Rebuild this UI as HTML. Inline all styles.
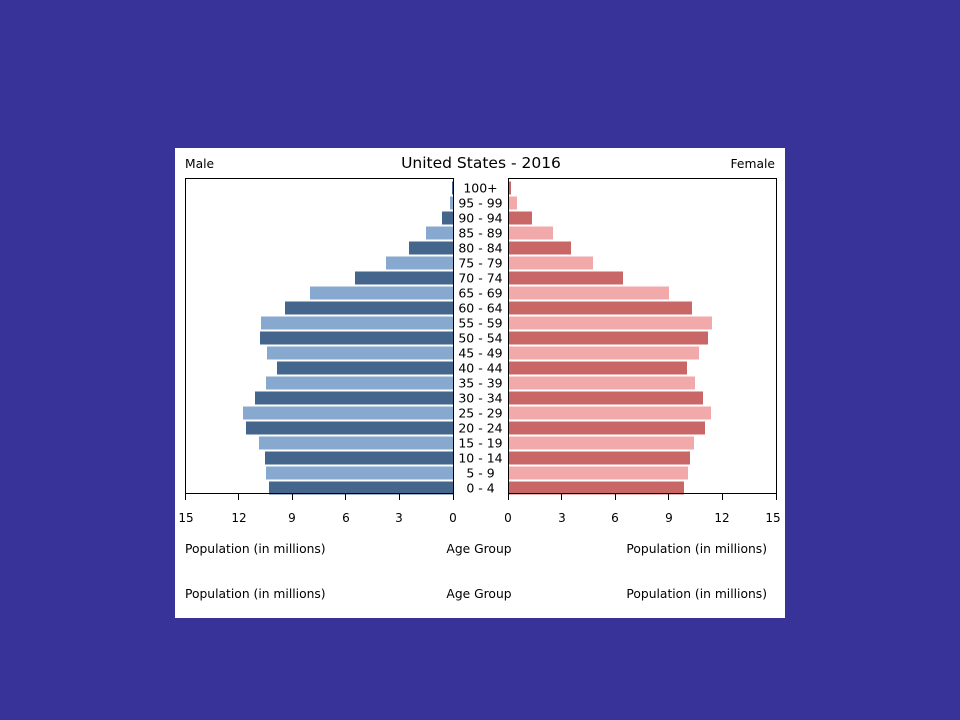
<!DOCTYPE html>
<html><head><meta charset="utf-8"><style>
html,body{margin:0;padding:0;background:#373399;}
svg{display:block;font-family:"DejaVu Sans","Liberation Sans",sans-serif;}
</style></head><body>
<svg width="960" height="720" xmlns="http://www.w3.org/2000/svg">
<rect x="0" y="0" width="960" height="720" fill="#373399"/>
<rect x="175" y="148" width="610" height="470" fill="#ffffff"/>
<text x="185" y="168" font-size="12.3">Male</text>
<text x="775" y="168" font-size="12.3" text-anchor="end">Female</text>
<text x="481" y="168" font-size="15.5" text-anchor="middle">United States - 2016</text>
<g fill="#44668c">
<rect x="269" y="481.5" width="184" height="13"/>
<rect x="265" y="451.5" width="188" height="13"/>
<rect x="246" y="421.5" width="207" height="13"/>
<rect x="255" y="391.5" width="198" height="13"/>
<rect x="277" y="361.5" width="176" height="13"/>
<rect x="260" y="331.5" width="193" height="13"/>
<rect x="285" y="301.5" width="168" height="13"/>
<rect x="355" y="271.5" width="98" height="13"/>
<rect x="409" y="241.5" width="44" height="13"/>
<rect x="442" y="211.5" width="11" height="13"/>
<rect x="452" y="181.5" width="1" height="13"/>
</g>
<g fill="#87a8cf">
<rect x="266" y="466.5" width="187" height="13"/>
<rect x="259" y="436.5" width="194" height="13"/>
<rect x="243" y="406.5" width="210" height="13"/>
<rect x="266" y="376.5" width="187" height="13"/>
<rect x="267" y="346.5" width="186" height="13"/>
<rect x="261" y="316.5" width="192" height="13"/>
<rect x="310" y="286.5" width="143" height="13"/>
<rect x="386" y="256.5" width="67" height="13"/>
<rect x="426" y="226.5" width="27" height="13"/>
<rect x="450" y="196.5" width="3" height="13"/>
</g>
<g fill="#c96666">
<rect x="508" y="481.5" width="176" height="13"/>
<rect x="508" y="451.5" width="182" height="13"/>
<rect x="508" y="421.5" width="197" height="13"/>
<rect x="508" y="391.5" width="195" height="13"/>
<rect x="508" y="361.5" width="179" height="13"/>
<rect x="508" y="331.5" width="200" height="13"/>
<rect x="508" y="301.5" width="184" height="13"/>
<rect x="508" y="271.5" width="115" height="13"/>
<rect x="508" y="241.5" width="63" height="13"/>
<rect x="508" y="211.5" width="24" height="13"/>
<rect x="508" y="181.5" width="3" height="13"/>
</g>
<g fill="#f2a9a9">
<rect x="508" y="466.5" width="180" height="13"/>
<rect x="508" y="436.5" width="186" height="13"/>
<rect x="508" y="406.5" width="203" height="13"/>
<rect x="508" y="376.5" width="187" height="13"/>
<rect x="508" y="346.5" width="191" height="13"/>
<rect x="508" y="316.5" width="204" height="13"/>
<rect x="508" y="286.5" width="161" height="13"/>
<rect x="508" y="256.5" width="85" height="13"/>
<rect x="508" y="226.5" width="45" height="13"/>
<rect x="508" y="196.5" width="9" height="13"/>
</g>
<g fill="none" stroke="#000" stroke-width="1">
<path d="M185.5 493.5 V178.5 H453.5 V493.5 H185.5"/>
<path d="M508.5 493.5 V178.5 H776.5 V493.5 H508.5"/>
<path d="M185.5 493 V500 M238.5 493 V500 M292.5 493 V500 M345.5 493 V500 M399.5 493 V500 M453.5 493 V500"/>
<path d="M508.5 493 V500 M561.5 493 V500 M615.5 493 V500 M668.5 493 V500 M722.5 493 V500 M776.5 493 V500"/>
</g>
<g font-size="12" text-anchor="middle">
<text x="186" y="522">15</text><text x="239" y="522">12</text><text x="292" y="522">9</text>
<text x="346" y="522">6</text><text x="399" y="522">3</text><text x="453" y="522">0</text>
<text x="508" y="522">0</text><text x="562" y="522">3</text><text x="615" y="522">6</text>
<text x="669" y="522">9</text><text x="722" y="522">12</text><text x="773" y="522">15</text>
</g>
<g font-size="12.5" text-anchor="middle">
<text x="480.5" y="492.5">0 - 4</text>
<text x="480.5" y="477.5">5 - 9</text>
<text x="480.5" y="462.5">10 - 14</text>
<text x="480.5" y="447.5">15 - 19</text>
<text x="480.5" y="432.5">20 - 24</text>
<text x="480.5" y="417.5">25 - 29</text>
<text x="480.5" y="402.5">30 - 34</text>
<text x="480.5" y="387.5">35 - 39</text>
<text x="480.5" y="372.5">40 - 44</text>
<text x="480.5" y="357.5">45 - 49</text>
<text x="480.5" y="342.5">50 - 54</text>
<text x="480.5" y="327.5">55 - 59</text>
<text x="480.5" y="312.5">60 - 64</text>
<text x="480.5" y="297.5">65 - 69</text>
<text x="480.5" y="282.5">70 - 74</text>
<text x="480.5" y="267.5">75 - 79</text>
<text x="480.5" y="252.5">80 - 84</text>
<text x="480.5" y="237.5">85 - 89</text>
<text x="480.5" y="222.5">90 - 94</text>
<text x="480.5" y="207.5">95 - 99</text>
<text x="480.5" y="192.5">100+</text>
</g>
<g font-size="12.3">
<text x="185" y="553">Population (in millions)</text>
<text x="479" y="553" text-anchor="middle">Age Group</text>
<text x="767" y="553" text-anchor="end">Population (in millions)</text>
<text x="185" y="598">Population (in millions)</text>
<text x="479" y="598" text-anchor="middle">Age Group</text>
<text x="767" y="598" text-anchor="end">Population (in millions)</text>
</g>
</svg>
</body></html>
